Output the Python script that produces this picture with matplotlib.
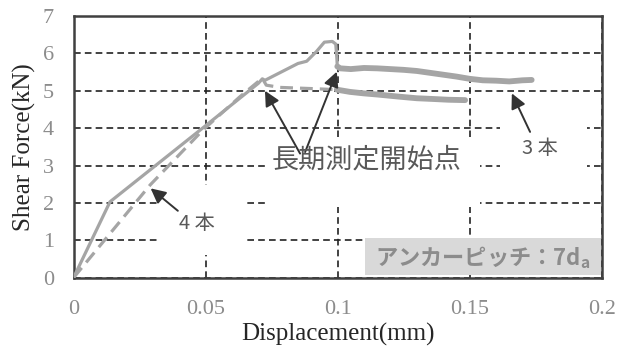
import matplotlib
matplotlib.use("Agg")
import matplotlib.pyplot as plt
from matplotlib.patches import Rectangle

# --- data ---
# 3本 (solid): loading + long-term
x3_load = [0.0, 0.0138, 0.0492, 0.0700, 0.0715, 0.0725, 0.0850, 0.0883, 0.0920, 0.0950, 0.0980, 0.0993, 0.0997, 0.0999]
y3_load = [0.0, 2.03, 4.02, 5.20, 5.32, 5.28, 5.73, 5.79, 6.05, 6.30, 6.32, 6.25, 5.90, 5.65]
x3_long = [0.0999, 0.1010, 0.1050, 0.1100, 0.1150, 0.1200, 0.1250, 0.1300, 0.1350, 0.1400, 0.1450, 0.1500, 0.1550, 0.1600, 0.1650, 0.1700, 0.1735]
y3_long = [5.65, 5.60, 5.58, 5.61, 5.60, 5.58, 5.56, 5.53, 5.48, 5.43, 5.38, 5.32, 5.28, 5.27, 5.25, 5.28, 5.29]
# 4本 (dashed): loading + long-term
x4_load = [0.0, 0.0290, 0.0490, 0.0630, 0.0700, 0.0715, 0.0730, 0.0782, 0.0896, 0.0997]
y4_load = [0.0, 2.48, 3.95, 4.84, 5.25, 5.33, 5.15, 5.09, 5.06, 5.03]
x4_long = [0.0997, 0.1047, 0.1100, 0.1150, 0.1237, 0.1300, 0.1363, 0.1420, 0.1483]
y4_long = [5.03, 4.97, 4.93, 4.90, 4.84, 4.80, 4.78, 4.76, 4.75]

xticks = [0, 0.05, 0.1, 0.15, 0.2]
xticklabels = ["0", "0.05", "0.1", "0.15", "0.2"]
yticks = [0, 1, 2, 3, 4, 5, 6, 7]

LINE = "#A5A5A5"
TICK = "#8C8C8C"
TXT = "#595959"
ARR = "#333333"

fig = plt.figure(figsize=(6.18, 3.54), dpi=100)
ax = fig.add_axes([0.119, 0.2155, 0.8545, 0.7393])

ax.set_xlim(0, 0.2)
ax.set_ylim(0, 7)
ax.set_xticks(xticks)
ax.set_xticklabels(xticklabels)
ax.set_yticks(yticks)
ax.tick_params(length=0, labelsize=16, labelcolor=TICK)
for lab in ax.get_xticklabels() + ax.get_yticklabels():
    lab.set_fontfamily("Liberation Serif")
ax.tick_params(axis="x", pad=16)
ax.tick_params(axis="y", pad=14)

ax.set_axisbelow(True)
ax.grid(True, color="#222222", linestyle=(0, (4, 2.5)), linewidth=1.2)
for s in ax.spines.values():
    s.set_color("#404040")
    s.set_linewidth(1.8)

# white boxes hiding gridlines behind the text labels
for (x0, y0, w, h) in [(0.0328, 0.60, 0.0329, 1.88), (0.0733, 1.90, 0.0807, 1.86), (0.1616, 2.20, 0.0329, 2.10)]:
    ax.add_patch(Rectangle((x0, y0), w, h, facecolor="white", edgecolor="none", zorder=1))

# curves
ax.plot(x3_load, y3_load, color=LINE, lw=2.3, zorder=3, solid_capstyle="round")
ax.plot(x3_long, y3_long, color=LINE, lw=4.2, zorder=3, solid_capstyle="round")
ax.plot(x4_load, y4_load, color=LINE, lw=2.3, zorder=3, linestyle=(0, (4, 2.2)))
ax.plot(x4_long, y4_long, color=LINE, lw=4.2, zorder=3, solid_capstyle="round")

jp = ["Noto Sans CJK JP", "DejaVu Sans"]
arrowprops = dict(arrowstyle="-|>,head_length=0.9,head_width=0.45", color=ARR, lw=1.4, shrinkA=0, shrinkB=0)

ax.annotate("", xy=(0.0292, 2.39), xytext=(0.0395, 1.79), arrowprops=arrowprops, zorder=4)
ax.text(0.0467, 1.45, "4 本", fontsize=14.5, color=TXT, family=jp, ha="center", va="center", zorder=4)

ax.annotate("", xy=(0.0725, 5.0), xytext=(0.0858, 3.32), arrowprops=arrowprops, zorder=4)
ax.annotate("", xy=(0.0997, 5.51), xytext=(0.0877, 3.36), arrowprops=arrowprops, zorder=4)
ax.text(0.1110, 3.14, "長期測定開始点", fontsize=19.5, color=TXT, family=jp, ha="center", va="center", zorder=4)

ax.annotate("", xy=(0.1660, 4.93), xytext=(0.1729, 3.90), arrowprops=arrowprops, zorder=4)
ax.text(0.1765, 3.46, "3 本", fontsize=14.5, color=TXT, family=jp, ha="center", va="center", zorder=4)

# pitch box
ax.add_patch(Rectangle((0.552, 0.01), 0.446, 0.142, transform=ax.transAxes,
                       facecolor="#D9D9D9", edgecolor="none", zorder=5))
ax.text(0.775, 0.075, "アンカーピッチ：7d$_\\mathregular{a}$", transform=ax.transAxes,
        fontsize=16, fontweight="bold", color="#8C8C8C", family=jp,
        ha="center", va="center", zorder=6)

ax.set_xlabel("Displacement(mm)", fontsize=18, family="Liberation Serif", color="#262626", labelpad=3)
ax.set_ylabel("Shear Force(kN)", fontsize=18, family="Liberation Serif", color="#262626", labelpad=5)

fig.savefig("out.png", dpi=100)
